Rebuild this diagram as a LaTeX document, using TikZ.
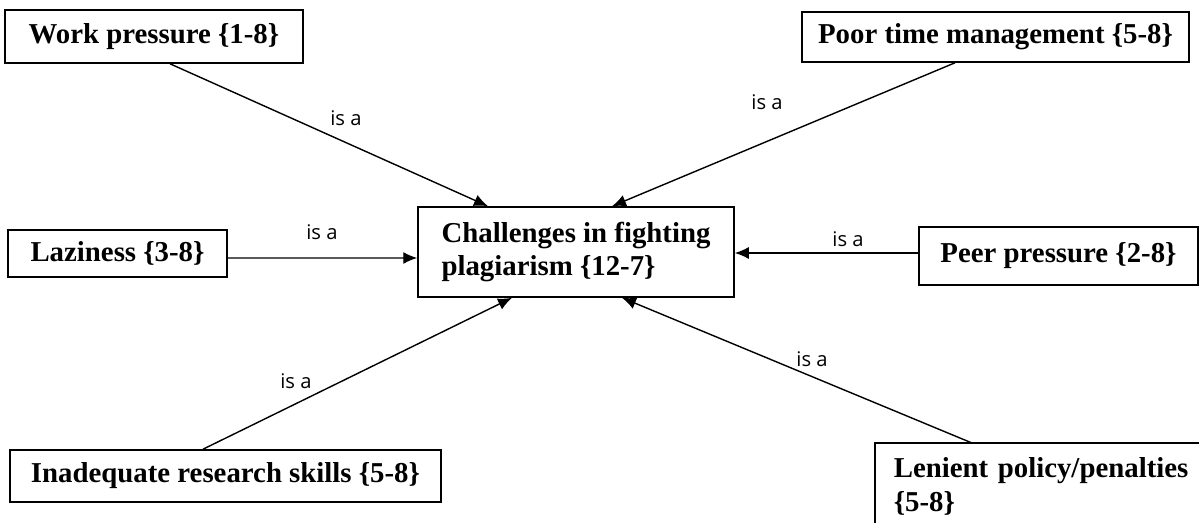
\documentclass[tikz,border=0pt]{standalone}
\usepackage{fontspec}
\setmainfont{Liberation Serif}
\newfontfamily\isafont{Open Sans}
\usetikzlibrary{arrows.meta, calc}
\tikzset{
  every picture/.style={line width=0.8pt},
  cause/.style={draw, line width=0.9pt, font=\bfseries\fontsize{16.4}{19}\selectfont, inner sep=0pt, align=left},
  link/.style={-{Latex[length=2.8mm, width=2.4mm]}, line width=0.8pt},
  isa/.style={font=\isafont\fontsize{11.5}{13}\selectfont, inner sep=0pt},
}

\begin{document}
\begin{tikzpicture}[x=0.02cm, y=-0.02cm]
  \useasboundingbox (0,0) rectangle (1199,523);
  \clip (0,0) rectangle (1199,523);
  % centre: the challenge
  \node[cause, minimum width=6.32cm, minimum height=1.8cm] (chal) at (576,252) {Challenges in fighting\\plagiarism \{12-7\}};
  % causes round it
  \node[cause, minimum width=5.96cm, minimum height=1.06cm] (work) at (154,36.5) {Work pressure \{1-8\}};
  \node[cause, minimum width=7.74cm, minimum height=1.0cm] (time) at (995.5,37) {Poor time management \{5-8\}};
  \node[cause, minimum width=4.38cm, minimum height=0.94cm] (lazy) at (117.5,253.5) {Laziness \{3-8\}};
  \node[cause, minimum width=5.58cm, minimum height=1.16cm] (peer) at (1058.5,256) {Peer pressure \{2-8\}};
  \node[cause, minimum width=8.62cm, minimum height=1.04cm] (skills) at (225.5,476) {Inadequate research skills \{5-8\}};
  % this one runs off the page: only its top and left sides show
  \node[cause, draw=none, anchor=north west, text width=7.2cm, inner xsep=0.36cm, inner ysep=0.28cm] (lenient) at (875,443) {Lenient policy/penalties\\\{5-8\}};
  \draw[line width=0.9pt] (lenient.south west) -- (lenient.north west) -- (lenient.north east);
  % is a links
  \draw[link] ($(work.south)+(16,0)$) -- ($(chal.north)+(-88,0)$);
  \draw[link] ($(time.south)+(-40.5,0)$) -- ($(chal.north)+(36,0)$);
  \draw[link] ($(lazy.east)+(0,4.5)$) -- ($(chal.west)+(0,6)$);
  \draw[link] ($(peer.west)+(0,-3)$) -- ($(chal.east)+(0,1)$);
  \draw[link] ($(skills.north)+(-22.5,0)$) -- ($(chal.south)+(-64,0)$);
  \draw[link] ($(lenient.north west)+(97,0)$) -- ($(chal.south)+(46,0)$);
  \node[isa] (isa1) at (346,118) {is a};
  \node[isa] (isa2) at (767,102) {is a};
  \node[isa] (isa3) at (322,232) {is a};
  \node[isa] (isa4) at (848,239) {is a};
  \node[isa] (isa5) at (296,381) {is a};
  \node[isa] (isa6) at (812,359) {is a};
\end{tikzpicture}
\end{document}
